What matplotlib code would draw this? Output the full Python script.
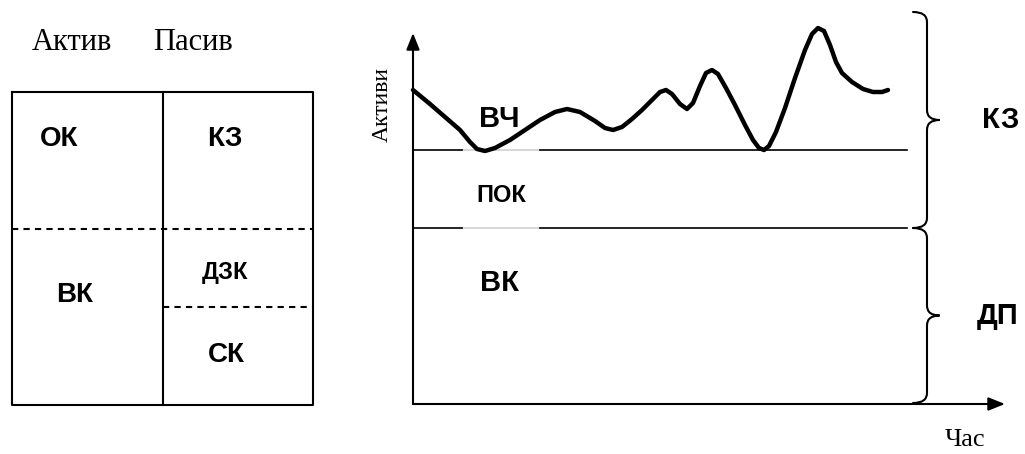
import matplotlib
matplotlib.use("Agg")
import matplotlib.pyplot as plt
from matplotlib.path import Path
from matplotlib.patches import PathPatch

# --- data (pixel coordinates of the source picture, y grows downwards) ---
# left: balance sheet table
table_left, table_mid, table_right = 12, 163, 313
table_top, table_bottom = 92, 405
split_main = 229      # dashed line across both columns
split_passive = 307   # dashed line in the passive column only

head_labels = ["Актив", "Пасив"]
head_x = [72, 193]
cell_labels = ["ОК", "ВК", "КЗ", "ДЗК", "СК"]
cell_x = [59, 75, 225, 225, 226]
cell_y = [139, 295, 139, 273, 355]
cell_size = [20, 20, 20, 17, 20]

# right: assets over time
axis_x0, axis_y0 = 413, 404
axis_top, axis_right = 33, 1005
level_pok_top = 150     # lower bound of variable part (ВЧ)
level_pok_bottom = 228  # boundary ПОК / ВК
level_end = 907
gap = (462, 540)

curve_x = [413, 430, 445, 460, 470, 477, 485, 495, 510, 525, 540, 555, 567,
           580, 595, 605, 613, 622, 632, 642, 652, 660, 666, 672, 680, 687,
           693, 700, 706, 712, 718, 726, 735, 745, 753, 759, 764, 769, 776,
           785, 795, 805, 812, 818, 824, 830, 836, 842, 852, 863, 873, 882,
           888]
curve_y = [90, 104, 117, 130, 142, 149, 151, 148, 140, 130, 120, 112, 109,
           112, 121, 128, 130, 127, 119, 110, 100, 92, 90, 94, 104, 109,
           103, 86, 73, 70, 74, 88, 105, 125, 140, 148, 150, 146, 132,
           108, 78, 50, 34, 28, 31, 45, 62, 73, 82, 89, 92, 92,
           90]

area_labels = ["ВЧ", "ПОК", "ВК"]
area_x = [499, 501, 499]
area_y = [119, 195, 283]
area_size = [21, 17, 21]

brace_labels = ["КЗ", "ДП"]
brace_spans = [(12, 228), (228, 403)]
brace_label_x = [1001, 998]

BOLD = dict(family="Liberation Sans", weight="bold", color="black")
SERIF = dict(family="Liberation Serif", color="black")


def brace(ax, x, y0, y1, w=14, lw=1.5):
    """vertical curly brace, stem at x, tip pointing right (y down)."""
    ym = (y0 + y1) / 2
    r = 10
    verts = [
        (x - w, y0), (x, y0), (x, y0 + r),
        (x, ym - r),
        (x, ym), (x + w * 0.9, ym),
        (x, ym), (x, ym + r),
        (x, y1 - r),
        (x, y1), (x - w, y1),
    ]
    codes = [Path.MOVETO, Path.CURVE3, Path.CURVE3,
             Path.LINETO,
             Path.CURVE3, Path.CURVE3,
             Path.CURVE3, Path.CURVE3,
             Path.LINETO,
             Path.CURVE3, Path.CURVE3]
    ax.add_patch(PathPatch(Path(verts, codes), fill=False, lw=lw,
                           color="black", capstyle="round"))


fig = plt.figure(figsize=(10.25, 4.54), dpi=100)
ax = fig.add_axes([0, 0, 1, 1])
ax.set_xlim(0, 1025)
ax.set_ylim(454, 0)
ax.axis("off")

# table
lw = 1.5
ax.plot([table_left, table_right, table_right, table_left, table_left],
        [table_top, table_top, table_bottom, table_bottom, table_top],
        color="black", lw=lw)
ax.plot([table_mid, table_mid], [table_top, table_bottom], color="black", lw=lw)
ax.plot([table_left, table_right], [split_main, split_main], color="black",
        lw=lw, ls=(0, (3, 2.5)))
ax.plot([table_mid, table_right], [split_passive, split_passive],
        color="black", lw=lw, ls=(0, (3, 2.5)))
for t, x in zip(head_labels, head_x):
    ax.text(x, 42, t, fontsize=22, ha="center", va="center", **SERIF)
for t, x, y, s in zip(cell_labels, cell_x, cell_y, cell_size):
    ax.text(x, y, t, fontsize=s, ha="center", va="center", **BOLD)

# axes with arrows
arrow = dict(arrowstyle="-|>,head_length=0.5,head_width=0.2", color="black",
             lw=1.5, shrinkA=0, shrinkB=0, mutation_scale=20)
ax.annotate("", xy=(axis_x0, axis_top), xytext=(axis_x0, axis_y0),
            arrowprops=arrow)
ax.annotate("", xy=(axis_right, axis_y0), xytext=(axis_x0, axis_y0),
            arrowprops=arrow)

# level lines, faint where labels were masked
for y in (level_pok_top, level_pok_bottom):
    ax.plot([gap[0], gap[1]], [y, y], color="#cfcfcf", lw=1.2)
    ax.plot([axis_x0, gap[0]], [y, y], color="black", lw=1.2)
    ax.plot([gap[1], level_end], [y, y], color="black", lw=1.2)

ax.plot(curve_x, curve_y, color="black", lw=3.2, solid_joinstyle="round",
        solid_capstyle="round")

for t, x, y, s in zip(area_labels, area_x, area_y, area_size):
    ax.text(x, y, t, fontsize=s, ha="center", va="center", **BOLD)

ax.text(382, 104, "Активи", fontsize=17, rotation=90, ha="center",
        va="center", **SERIF)
ax.text(965, 440, "Час", fontsize=19, ha="center", va="center", **SERIF)

for (y0, y1), t, x in zip(brace_spans, brace_labels, brace_label_x):
    brace(ax, 927, y0, y1)
    ax.text(x, (y0 + y1) / 2, t, fontsize=21, ha="center", va="center", **BOLD)

fig.savefig("out.png", dpi=100)
